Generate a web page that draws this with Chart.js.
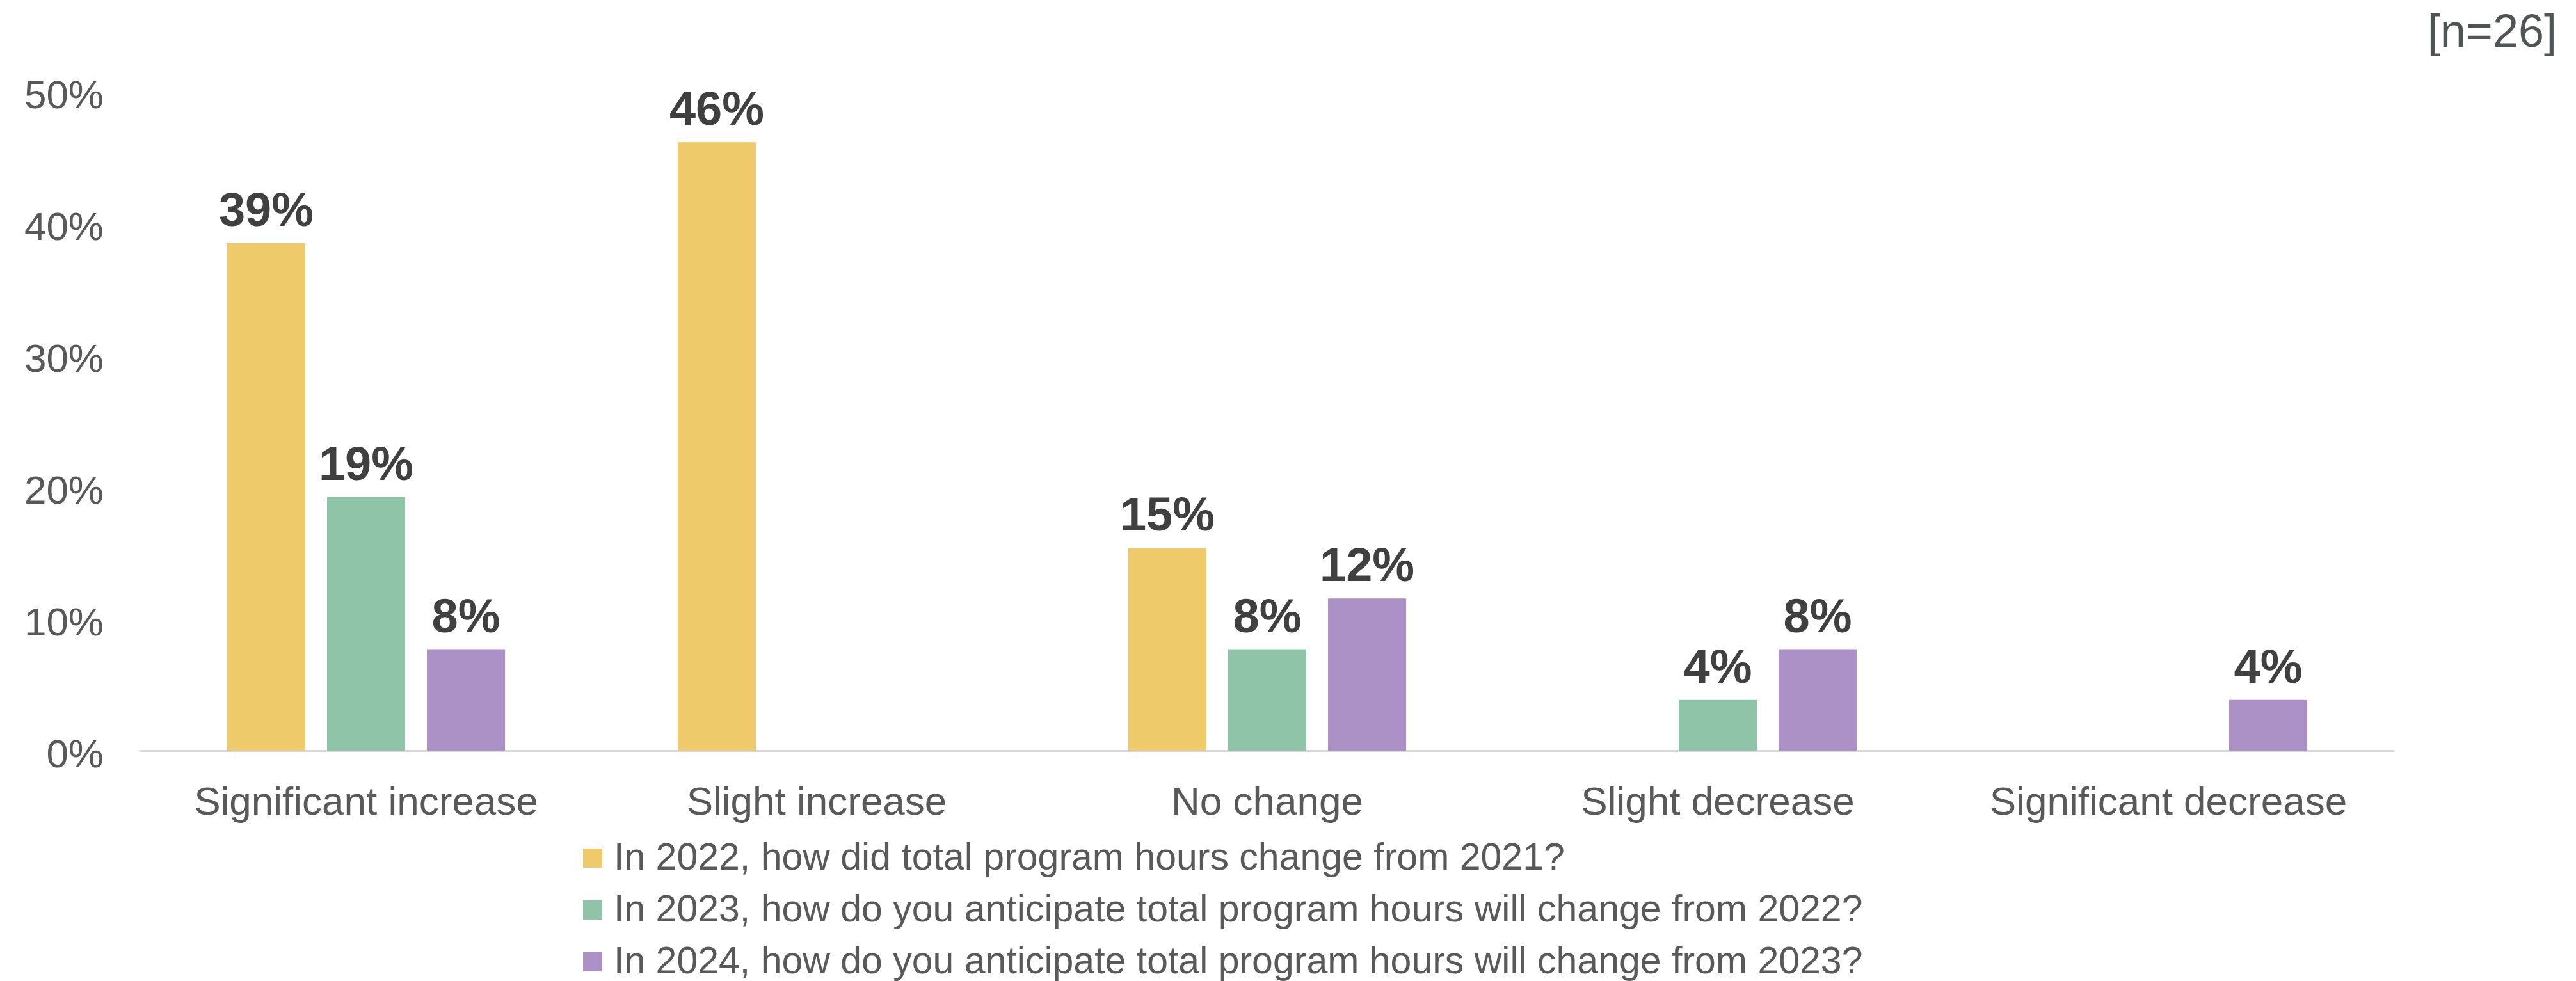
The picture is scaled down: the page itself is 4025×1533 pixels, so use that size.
<html>

<head>
    <style>
        body { margin: 0; background: #ffffff; }
        #chart_box { width: 4025px; height: 1533px; }
    </style>
</head>

<body>
    <div id="chart_box">
        <!-- 차트가 그려지는 영역 -->
        <canvas id="chart_id"></canvas>
    </div>
    <script src="https://cdn.jsdelivr.net/npm/chart.js"></script>
    <script>
        // 데이터 : 카테고리, 연도별 응답 비율(%) - 라벨은 반올림해서 표시
        const categories = ['Significant increase', 'Slight increase', 'No change', 'Slight decrease', 'Significant decrease'];
        const seriesNames = [
            'In 2022, how did total program hours change from 2021?',
            'In 2023, how do you anticipate total program hours will change from 2022?',
            'In 2024, how do you anticipate total program hours will change from 2023?'
        ];
        const values2022 = [38.5, 46.15, 15.38, null, null];
        const values2023 = [19.23, null, 7.69, 3.85, null];
        const values2024 = [7.69, null, 11.54, 7.69, 3.85];
        const yTicks = [0, 10, 20, 30, 40, 50];
        const sampleNote = '[n=26]';

        const colors = ['#EECA6A', '#8FC4A8', '#AC91C6'];
        const FONT = '"Liberation Sans", Arial, sans-serif';

        Chart.defaults.font.family = FONT;
        Chart.defaults.color = '#595959';

        // 막대 위 수치 라벨, 하단 범례, 우측 상단 n 표기
        const extraText = {
            id: 'extraText',
            afterDatasetsDraw(chart) {
                const ctx = chart.ctx;
                ctx.save();

                // 수치 라벨
                ctx.font = 'bold 74px ' + FONT;
                ctx.fillStyle = '#404040';
                ctx.textAlign = 'center';
                ctx.textBaseline = 'alphabetic';
                chart.data.datasets.forEach((ds, i) => {
                    chart.getDatasetMeta(i).data.forEach((bar, j) => {
                        const v = ds.data[j];
                        if (v === null || v === undefined) return;
                        ctx.fillText(Math.round(v) + '%', bar.x, bar.y - 27);
                    });
                });

                // 범례 (세로로 한 줄씩)
                ctx.font = '59px ' + FONT;
                ctx.textAlign = 'left';
                ctx.textBaseline = 'middle';
                chart.data.datasets.forEach((ds, i) => {
                    const cy = 1341 + i * 81;
                    ctx.fillStyle = ds.backgroundColor;
                    ctx.fillRect(911, cy - 15, 30, 30);
                    ctx.fillStyle = '#595959';
                    ctx.fillText(ds.label, 959, cy + 2);
                });

                // n 표기
                ctx.font = '72px ' + FONT;
                ctx.fillStyle = '#4F5455';
                ctx.textAlign = 'right';
                ctx.textBaseline = 'alphabetic';
                ctx.fillText(sampleNote, 3995, 73);

                ctx.restore();
            }
        };

        const chartCanvas = document.getElementById('chart_id');

        new Chart(chartCanvas, {
            type: 'bar',
            data: {
                labels: categories,
                datasets: [
                    { label: seriesNames[0], data: values2022, backgroundColor: colors[0] },
                    { label: seriesNames[1], data: values2023, backgroundColor: colors[1] },
                    { label: seriesNames[2], data: values2024, backgroundColor: colors[2] }
                ]
            },
            options: {
                responsive: true,
                maintainAspectRatio: false,
                animation: false,
                devicePixelRatio: 1,
                categoryPercentage: 0.665,
                barPercentage: 0.782,
                layout: {
                    padding: { left: 36, right: 285, top: 143, bottom: 240 }
                },
                plugins: {
                    legend: { display: false },
                    tooltip: { enabled: false }
                },
                scales: {
                    x: {
                        grid: { display: false, drawTicks: false },
                        border: { display: true, color: '#D9D9D9', width: 3 },
                        ticks: {
                            padding: 46,
                            color: '#595959',
                            font: { size: 62 },
                            maxRotation: 0
                        },
                        afterFit(scale) { scale.height = 120; }
                    },
                    y: {
                        min: 0,
                        max: 50,
                        afterBuildTicks(scale) {
                            scale.ticks = yTicks.map(v => ({ value: v }));
                        },
                        grid: { display: false, drawTicks: false },
                        border: { display: false },
                        ticks: {
                            padding: 58,
                            labelOffset: 9,
                            color: '#595959',
                            font: { size: 62 },
                            callback: v => v + '%'
                        },
                        afterFit(scale) { scale.width = 184; }
                    }
                }
            },
            plugins: [extraText]
        });
    </script>
</body>

</html>
